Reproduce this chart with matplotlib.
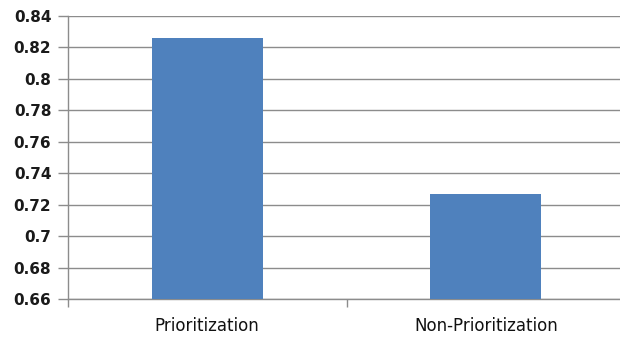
import matplotlib
matplotlib.use("Agg")
import matplotlib.pyplot as plt

# Chart data
categories = ["Prioritization", "Non-Prioritization"]
values = [0.826, 0.727]
y_ticks = [0.66, 0.68, 0.7, 0.72, 0.74, 0.76, 0.78, 0.8, 0.82, 0.84]
y_tick_labels = ["0.66", "0.68", "0.7", "0.72", "0.74", "0.76", "0.78", "0.8", "0.82", "0.84"]

BAR_COLOR = "#4F81BD"
GRID_COLOR = "#8c8c8c"

fig = plt.figure(figsize=(6.2, 3.39), dpi=100)
ax = fig.add_axes([68 / 620, 1 - 299 / 339, (625 - 68) / 620, (299 - 16) / 339])

x = list(range(len(categories)))
ax.bar(x, values, width=0.4, color=BAR_COLOR, zorder=3)

ax.set_ylim(0.66, 0.84)
ax.set_xlim(-0.5, len(categories) - 0.5)

ax.set_yticks(y_ticks)
ax.set_yticklabels(y_tick_labels, fontsize=11, fontweight="bold", color="#1a1a1a")
ax.yaxis.grid(True, color=GRID_COLOR, linewidth=1.0, zorder=0)
ax.tick_params(axis="y", length=7, color=GRID_COLOR, width=1.0, pad=5)

# category boundaries as major ticks, labels on minor ticks
ax.set_xticks([i - 0.5 for i in range(len(categories) + 1)])
ax.set_xticklabels([])
ax.tick_params(axis="x", which="major", length=6, color=GRID_COLOR, width=1.0)
ax.set_xticks(x, minor=True)
ax.set_xticklabels(categories, minor=True, fontsize=12, color="#111111")
ax.tick_params(axis="x", which="minor", length=0, pad=13)

for side in ["top", "right"]:
    ax.spines[side].set_visible(False)
for side in ["left", "bottom"]:
    ax.spines[side].set_color(GRID_COLOR)
    ax.spines[side].set_linewidth(1.0)

fig.savefig("out.png", dpi=100)
